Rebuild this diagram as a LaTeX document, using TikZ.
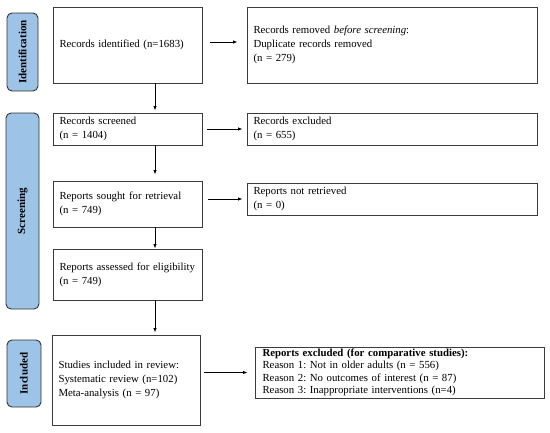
\documentclass[tikz,border=0pt]{standalone}
\usepackage{fontspec}
\setmainfont{Liberation Serif}
\usetikzlibrary{arrows.meta,calc}
\definecolor{sideblue}{HTML}{9DC3E6}
\definecolor{boxline}{HTML}{3C3C3C}
\tikzset{
  flowbox/.style={draw=boxline, line width=0.9pt, fill=white, rectangle, align=left, anchor=center,
    inner xsep=4pt, inner ysep=0pt, font=\fontsize{10.8}{13.8}\selectfont},
  sidebox/.style={draw=black!80, line width=0.9pt, fill=sideblue, rounded corners=5pt, anchor=center,
    inner sep=0pt},
  sidetext/.style={rotate=90, font=\bfseries\fontsize{11}{13}\selectfont},
  flowarrow/.style={-{Latex[length=4.5pt,width=3.5pt]}, line width=0.8pt, black}
}
\begin{document}
\frenchspacing
\begin{tikzpicture}[x=1pt,y=-1pt]
\useasboundingbox (0,0) rectangle (550,432);
% side labels
\node[sidebox, minimum width=31pt, minimum height=78pt] (sid) at (22.5,52) {};
\node[sidetext] (sidt) at (sid.center) {Identification};
\node[sidebox, minimum width=33pt, minimum height=196pt] (ssc) at (22.5,211) {};
\node[sidetext] (ssct) at (ssc.center) {Screening};
\node[sidebox, minimum width=34pt, minimum height=67pt] (sin) at (24,373.5) {};
\node[sidetext] (sint) at (sin.center) {Included};
% left column
\node[flowbox, minimum width=149pt, minimum height=76pt, text width=141pt] (b1) at (127.5,45) {\hspace*{2.5pt}Records identified (n=1683)};
\node[flowbox, minimum width=149pt, minimum height=32pt, text width=141pt] (b3) at (127.5,129) {\hspace*{2.5pt}Records screened\\\hspace*{2.5pt}(n = 1404)};
\node[flowbox, minimum width=149pt, minimum height=46pt, text width=141pt] (b5) at (127.5,204) {\hspace*{2.5pt}Reports sought for retrieval\\\hspace*{2.5pt}(n = 749)};
\node[flowbox, minimum width=149pt, minimum height=51pt, text width=141pt] (b7) at (127.5,274.5) {\hspace*{2.5pt}Reports assessed for eligibility\\\hspace*{2.5pt}(n = 749)};
\node[flowbox, minimum width=148pt, minimum height=90pt, text width=140pt] (b8) at (126,380) {\hspace*{2.5pt}Studies included in review:\\\hspace*{2.5pt}Systematic review (n=102)\\\hspace*{2.5pt}Meta-analysis (n = 97)};
% right column
\node[flowbox, minimum width=290pt, minimum height=76pt, text width=280pt] (b2) at (392,45) {\hspace*{1.5pt}Records removed \textit{before screening}:\\\hspace*{1.5pt}Duplicate records removed\\\hspace*{1.5pt}(n = 279)};
\node[flowbox, minimum width=290pt, minimum height=32pt, text width=280pt] (b4) at (392,129) {\hspace*{1.5pt}Records excluded\\\hspace*{1.5pt}(n = 655)};
\node[flowbox, minimum width=290pt, minimum height=32pt, text width=280pt] (b6) at (392,199) {\hspace*{1.5pt}Reports not retrieved\\\hspace*{1.5pt}(n = 0)};
\node[flowbox, minimum width=289pt, minimum height=51pt, text width=279pt, font=\fontsize{10.8}{12.5}\selectfont] (b9) at (399.5,372.5) {\hspace*{2.5pt}\textbf{Reports excluded (for comparative studies):}\\\hspace*{2.5pt}Reason 1: Not in older adults (n = 556)\\\hspace*{2.5pt}Reason 2: No outcomes of interest (n = 87)\\\hspace*{2.5pt}Reason 3: Inappropriate interventions (n=4)};
% vertical arrows
\coordinate (ax) at (155,0);
\draw[flowarrow, shorten >=2pt] (b1.south -| ax) -- (b3.north -| ax);
\draw[flowarrow, shorten >=6pt] (b3.south -| ax) -- (b5.north -| ax);
\draw[flowarrow] (b5.south -| ax) -- (b7.north -| ax);
\draw[flowarrow, shorten >=2pt] (b7.south -| ax) -- (b8.north -| ax);
% horizontal arrows
\coordinate (r1) at (0,42);
\draw[flowarrow, shorten <=8pt, shorten >=9pt] (b1.east |- r1) -- (b2.west |- r1);
\draw[flowarrow, shorten <=5pt, shorten >=4pt] (b3.east) -- (b4.west);
\draw[flowarrow, shorten <=6pt, shorten >=4pt] (b5.east |- b6.west) -- (b6.west);
\draw[flowarrow, shorten <=4pt, shorten >=7pt] (b8.east |- b9.west) -- (b9.west);
\end{tikzpicture}
\end{document}
